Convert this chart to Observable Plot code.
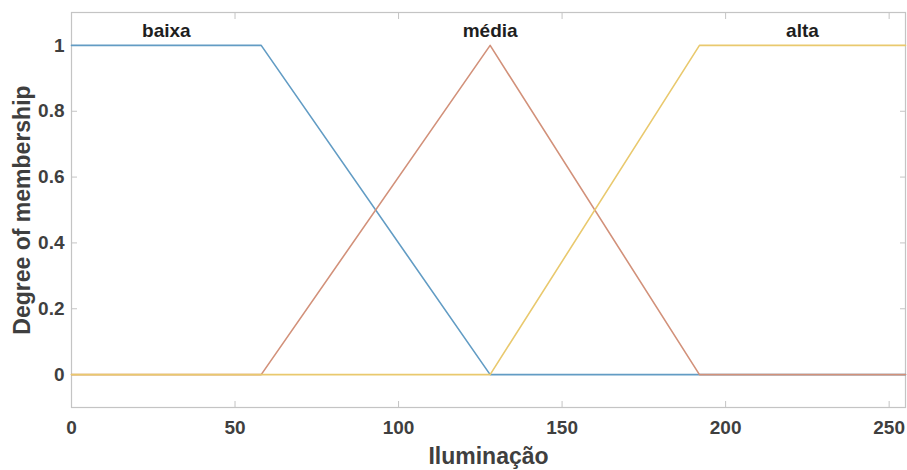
<!DOCTYPE html>
<html>
<head>
<meta charset="utf-8">
<script src="https://cdn.jsdelivr.net/npm/d3@7"></script>
<script src="https://cdn.jsdelivr.net/npm/@observablehq/plot@0.6"></script>
<style>
  html, body { margin: 0; padding: 0; background: #fff; }
</style>
</head>
<body>
<div id="chart"></div>
<script>
// Membership functions for the "Iluminação" input (0–255)
const setNames = ["baixa", "média", "alta"];
const baixaX = [0, 58, 128, 255];
const baixaY = [1, 1, 0, 0];
const mediaX = [0, 58, 128, 192, 255];
const mediaY = [0, 0, 1, 0, 0];
const altaX  = [0, 128, 192, 255];
const altaY  = [0, 0, 1, 1];
const xTicks = [0, 50, 100, 150, 200, 250];
const yTicks = [0, 0.2, 0.4, 0.6, 0.8, 1];
const setColors = ["#629cc4", "#d2917a", "#e9c96e"];

const series = [
  {name: setNames[0], xs: baixaX, ys: baixaY},
  {name: setNames[1], xs: mediaX, ys: mediaY},
  {name: setNames[2], xs: altaX,  ys: altaY}
];

const points = series.flatMap(s => s.xs.map((x, i) => ({set: s.name, x, y: s.ys[i]})));

// each set's name sits above the middle of its plateau (membership = 1)
const peakLabels = series.map(s => {
  const top = s.xs.filter((x, i) => s.ys[i] === 1);
  return {set: s.name, x: d3.mean(top), y: 1};
});

const tickColor = "#c4c4c4";
const textColor = "#3f3f3f";
const font = "Liberation Sans, Arial, Helvetica, sans-serif";

const chart = Plot.plot({
  width: 907,
  height: 470,
  marginLeft: 71,
  marginRight: 2,
  marginTop: 12,
  marginBottom: 63,
  style: {fontFamily: font, fontWeight: "bold", color: textColor, background: "#fff"},
  x: {domain: [0, 255]},
  y: {domain: [-0.1, 1.1]},
  color: {domain: setNames, range: setColors},
  marks: [
    Plot.frame({stroke: tickColor, strokeWidth: 1.2}),
    // inward tick marks on all four sides
    Plot.axisX({ticks: xTicks, anchor: "bottom", tickSize: -6, text: null, stroke: tickColor, label: null}),
    Plot.axisX({ticks: xTicks, anchor: "top", tickSize: -6, text: null, stroke: tickColor, label: null}),
    Plot.axisY({ticks: yTicks, anchor: "left", tickSize: -6, text: null, stroke: tickColor, label: null}),
    Plot.axisY({ticks: yTicks, anchor: "right", tickSize: -6, text: null, stroke: tickColor, label: null}),
    // tick labels
    Plot.axisX({ticks: xTicks, anchor: "bottom", tickSize: 0, tickPadding: 13, fontSize: 19,
                tickFormat: d => String(d), label: null}),
    Plot.axisY({ticks: yTicks, anchor: "left", tickSize: 0, tickPadding: 7, fontSize: 19,
                tickFormat: d => String(d), label: null}),
    // axis titles
    Plot.axisX({ticks: [], anchor: "bottom", tickSize: 0, fontSize: 23, label: "Iluminação",
                labelAnchor: "center", labelArrow: "none", labelOffset: 56}),
    Plot.axisY({ticks: [], anchor: "left", tickSize: 0, fontSize: 23, label: "Degree of membership",
                labelAnchor: "center", labelArrow: "none", labelOffset: 58}),
    // membership curves
    Plot.line(points, {x: "x", y: "y", z: "set", stroke: "set", strokeWidth: 1.6}),
    Plot.text(peakLabels, {x: "x", y: "y", text: "set", dy: -8, lineAnchor: "bottom",
                           fontSize: 19, fontWeight: "bold", fill: "#1e1e1e"})
  ]
});

document.getElementById("chart").appendChild(chart);
</script>
</body>
</html>
